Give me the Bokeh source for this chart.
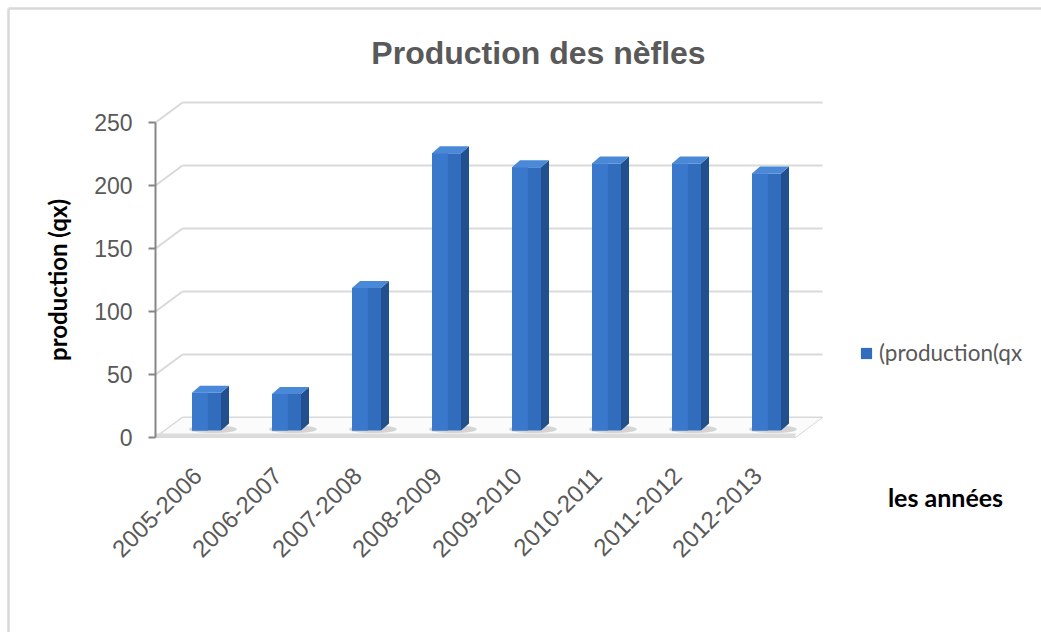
import math
import numpy as np
from bokeh.plotting import figure
from bokeh.models import Range1d, FixedTicker, Label, Legend, LegendItem
from bokeh.embed import file_html
from bokeh.resources import INLINE

# ---- data ----
categories = ["2005-2006", "2006-2007", "2007-2008", "2008-2009",
              "2009-2010", "2010-2011", "2011-2012", "2012-2013"]
production = [30, 29, 113, 220, 209, 212, 212, 204]
y_ticks = [0, 50, 100, 150, 200, 250]

title_text = "Production des nèfles"
y_label_text = "production (qx)"
x_label_text = "les années"
legend_text = "(production(qx"

# ---- geometry: the frame covers the whole canvas ----
W, H = 1041, 632
X0_PX, Y0_PX = 155, 437   # where the axes cross
PX_X = 80.0               # px per category
PX_Y = 1.26               # px per unit
n = len(categories)

def dx(px):
    return px / PX_X

def dy(px):
    return px / PX_Y

p = figure(width=W, height=H,
           x_range=Range1d(-dx(X0_PX), dx(W - X0_PX)),
           y_range=Range1d(-dy(H - Y0_PX), dy(Y0_PX)),
           output_backend="svg", toolbar_location=None,
           min_border_left=0, min_border_right=0, min_border_top=0, min_border_bottom=0)
p.outline_line_color = None
p.background_fill_color = "white"
p.border_fill_color = "white"
p.xgrid.visible = False
p.ygrid.visible = False

DX = dx(27)     # depth of the back wall
DY = dy(20)
BAR_HALF = dx(14.5)
BAR_SHIFT = dx(11)
SDX = dx(8)
SDY = dy(7)
BASE = dy(7)

# ---- chart border ----
bx, by = -dx(X0_PX - 8), dy(Y0_PX - 8)
p.segment(x0=[bx, bx], y0=[by, by], x1=[dx(W), bx], y1=[by, -dy(H)],
          line_color="#d9d9d9", line_width=2.5)

# ---- walls / grid ----
grid_col = "#d9d9d9"
back_right = dx(667)
gt = np.array(y_ticks, dtype=float)
m = len(gt)
p.segment(x0=np.zeros(m), y0=gt, x1=np.full(m, DX), y1=gt + DY,
          line_color=grid_col, line_width=2)
p.segment(x0=np.full(m, DX), y0=gt + DY, x1=np.full(m, back_right), y1=gt + DY,
          line_color=grid_col, line_width=2)
# floor
p.patch([0, n, n + DX, DX], [0, 0, DY, DY], fill_color="#fbfbfb", line_color=grid_col, line_width=1)
p.quad(left=[0], right=[n], bottom=[0], top=[dy(4)], fill_color="#dcdcdc", line_color=None)

# ---- bars ----
idx = np.arange(n)
vals = np.array(production, dtype=float)
fc = idx + 0.5 + BAR_SHIFT
left = fc - BAR_HALF
right = fc + BAR_HALF
top = BASE + vals

p.ellipse(x=fc + 0.08, y=np.full(n, BASE + 1), width=0.6, height=6, fill_color="#7f7f7f",
          fill_alpha=0.3, line_color=None)

front = p.quad(left=left, right=right, bottom=np.full(n, BASE), top=top,
               fill_color="#326cbc", line_color=None)
p.quad(left=left, right=left + (right - left) * 0.55, bottom=np.full(n, BASE), top=top,
       fill_color="#3a78cb", line_color=None)

side_xs = [[r, r + SDX, r + SDX, r] for r in right]
side_ys = [[BASE, BASE + SDY, t + SDY, t] for t in top]
p.patches(side_xs, side_ys, fill_color="#22508e", line_color=None)
top_xs = [[l, r, r + SDX, l + SDX] for l, r in zip(left, right)]
top_ys = [[t, t, t + SDY, t + SDY] for t in top]
p.patches(top_xs, top_ys, fill_color="#4a88d8", line_color=None)

# ---- axes (fixed at the crossing point) ----
ax_col = "#868686"
lab_col = "#595959"
yax = p.yaxis[0]
yax.fixed_location = 0
yax.ticker = FixedTicker(ticks=y_ticks)
yax.bounds = (0, 250)
yax.axis_line_color = ax_col
yax.axis_line_width = 2
yax.major_tick_line_color = ax_col
yax.major_tick_line_width = 2
yax.major_tick_out = 7
yax.major_tick_in = 0
yax.minor_tick_line_color = None
yax.major_label_standoff = 16
yax.major_label_text_font = "Liberation Sans"
yax.major_label_text_font_size = "23px"
yax.major_label_text_color = lab_col
yax.axis_label = y_label_text
yax.axis_label_standoff = 19
yax.axis_label_text_font = "Lato"
yax.axis_label_text_font_style = "bold"
yax.axis_label_text_font_size = "24px"
yax.axis_label_text_color = "black"

xax = p.xaxis[0]
xax.fixed_location = 0
xt = [float(i) + 0.525 for i in range(n)]
xax.ticker = FixedTicker(ticks=xt)
xax.major_label_overrides = {t: c for t, c in zip(xt, categories)}
xax.major_label_orientation = math.pi / 4
xax.axis_line_color = None
xax.major_tick_line_color = None
xax.minor_tick_line_color = None
xax.major_label_standoff = 28
xax.major_label_text_font = "Liberation Sans"
xax.major_label_text_font_size = "24px"
xax.major_label_text_color = lab_col

# ---- texts ----
p.add_layout(Label(x=538, y=H - 52, x_units="screen", y_units="screen", text=title_text,
                   text_align="center", text_baseline="middle", text_font="Liberation Sans",
                   text_font_style="bold", text_font_size="32px", text_color=lab_col))
p.add_layout(Label(x=945, y=H - 496, x_units="screen", y_units="screen", text=x_label_text,
                   text_align="center", text_baseline="alphabetic", text_font="Lato",
                   text_font_style="bold", text_font_size="25px", text_color="black"))

legend = Legend(items=[LegendItem(label=legend_text, renderers=[front])],
                location=(859, H - 366), padding=0, margin=0, spacing=0,
                glyph_width=14, glyph_height=14, label_standoff=6, label_height=14,
                label_text_font="Lato", label_text_font_size="22.5px", label_text_color=lab_col,
                border_line_color=None, background_fill_alpha=0)
p.add_layout(legend, "center")

open("out.html", "w").write(file_html(p, INLINE))
